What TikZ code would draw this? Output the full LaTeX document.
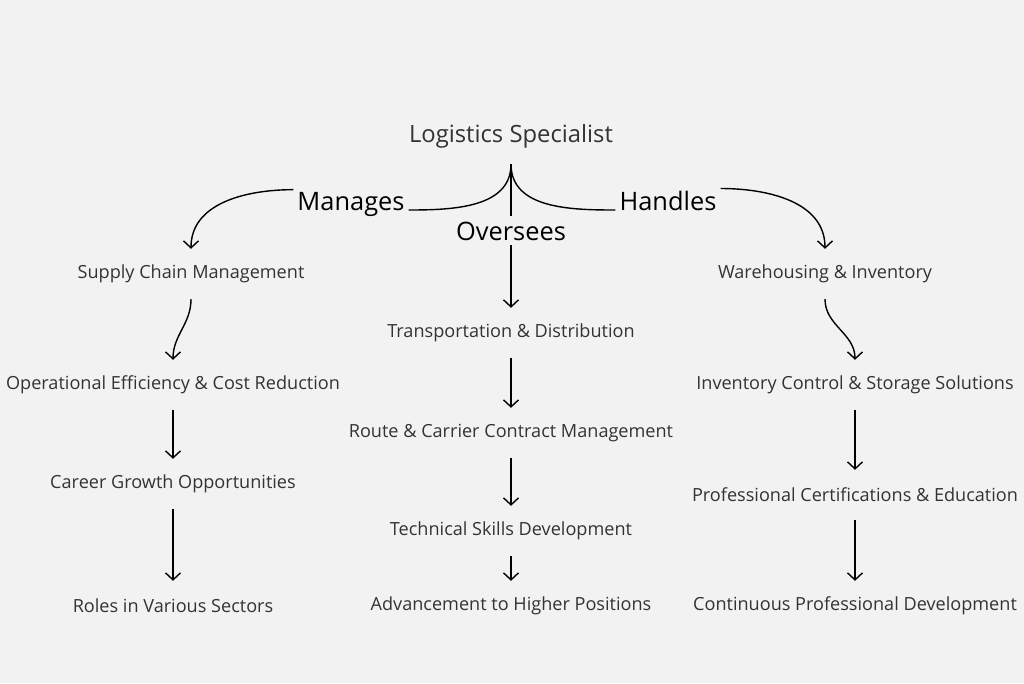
\documentclass[tikz,border=0pt]{standalone}
\usepackage{fontspec}
\setmainfont{Open Sans}
\usepackage{xcolor}
\usepackage{tikz}
\usetikzlibrary{arrows.meta,positioning}
\definecolor{paper}{HTML}{F2F2F2}
\definecolor{ink}{HTML}{333333}

\begin{document}
\begin{tikzpicture}[
  x=1pt, y=-1pt,
  every node/.style={font=\fontsize{18.1}{21}\selectfont, text=ink, inner xsep=0pt, minimum height=50pt},
  topic/.style={font=\fontsize{23.8}{28}\selectfont, minimum height=56pt},
  verb/.style={font=\fontsize{25.4}{30}\selectfont, text=black, minimum height=0pt, inner xsep=4pt, inner ysep=2pt, anchor=base},
  link/.style={draw, line width=1.4pt},
  arr/.style={link, -{Straight Barb[length=7pt,width=15pt]}}
]
  \fill[paper] (0,0) rectangle (1024,683);

  \node[topic] (spec) at (511,136) {Logistics Specialist};
  \node[verb] (man) at (351,210) {Manages};
  \node[verb, inner ysep=5pt] (ove) at (511,240) {Oversees};
  \node[verb] (han) at (668,210) {Handles};

  % left branch
  \node (scm) at (191,274) {Supply Chain Management};
  \node (ope) at (173,385) {Operational Efficiency \& Cost Reduction};
  \node (car) at (173,484) {Career Growth Opportunities};
  \node (rol) at (173,606) {Roles in Various Sectors};

  % middle branch
  \node (tra) at (511,333) {Transportation \& Distribution};
  \node (rou) at (511,433) {Route \& Carrier Contract Management};
  \node (tec) at (511,531) {Technical Skills Development};
  \node (adv) at (511,606) {Advancement to Higher Positions};

  % right branch
  \node (war) at (825,274) {Warehousing \& Inventory};
  \node (inv) at (855,385) {Inventory Control \& Storage Solutions};
  \node (pro) at (855,495) {Professional Certifications \& Education};
  \node (con) at (855,606) {Continuous Professional Development};

  \draw[link] (spec.south) to[out=-90, in=0] (man.base east);
  \draw[link] (spec.south) -- (ove.north);
  \draw[link] (spec.south) to[out=-90, in=180] (han.base west);

  \draw[arr] (man.north west) to[out=180, in=90] (scm.north);
  \draw[arr] (ove.south) -- (tra.north);
  \draw[arr] (han.north east) to[out=0, in=90] (war.north);

  \draw[arr] (scm.south) to[out=-90, in=90] (ope.north);
  \draw[arr] (ope.south) -- (car.north);
  \draw[arr] (car.south) -- (rol.north);

  \draw[arr] (tra.south) -- (rou.north);
  \draw[arr] (rou.south) -- (tec.north);
  \draw[arr] (tec.south) -- (adv.north);

  \draw[arr] (war.south) to[out=-90, in=90] (inv.north);
  \draw[arr] (inv.south) -- (pro.north);
  \draw[arr] (pro.south) -- (con.north);
\end{tikzpicture}
\end{document}
